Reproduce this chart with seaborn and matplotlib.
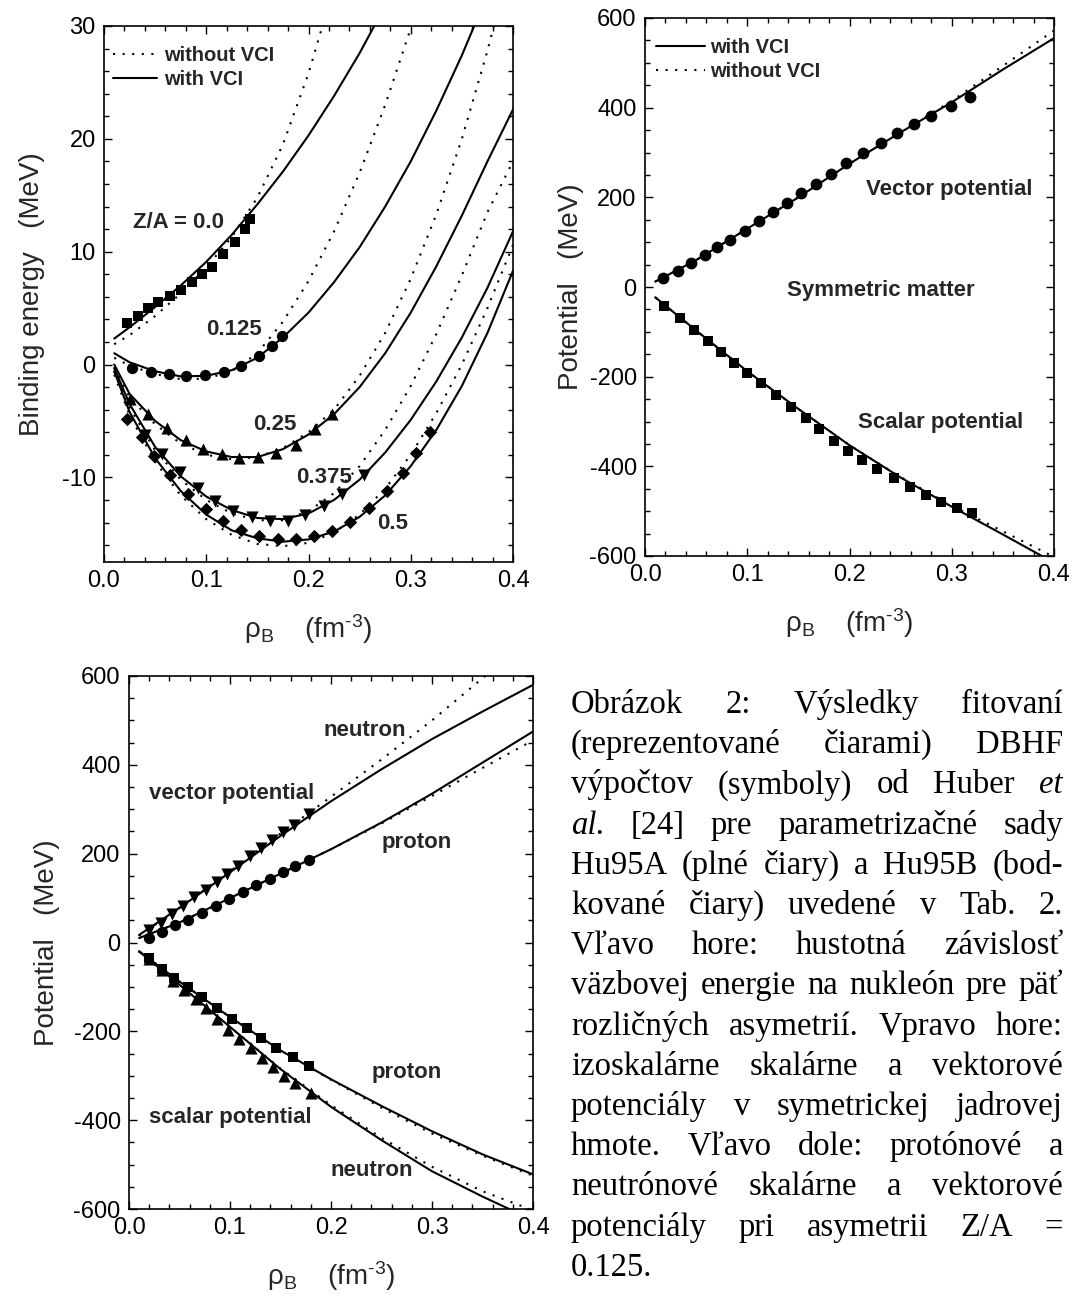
import numpy as np
import pandas as pd
import matplotlib
matplotlib.use("Agg")
import matplotlib.pyplot as plt
import seaborn as sns
from matplotlib.ticker import MultipleLocator
from matplotlib.lines import Line2D

# ---------------- data: panel 1 (binding energy) ----------------
rho_grid = [0.01, 0.025, 0.05, 0.075, 0.1, 0.125, 0.15, 0.175, 0.2, 0.225,
            0.25, 0.275, 0.3, 0.325, 0.35, 0.375, 0.4]

# Z/A = 0.0
be0_rho_pts = [0.0228, 0.033, 0.0427, 0.0525, 0.0645, 0.0753, 0.0857, 0.0962,
               0.106, 0.1167, 0.128, 0.138, 0.143]
be0_pts = [3.69, 4.31, 5.05, 5.56, 6.06, 6.59, 7.30, 8.01, 8.66, 9.76, 10.88, 11.98, 12.87]
be0_solid = [2.3, 3.3, 5.1, 7.0, 9.1, 11.5, 14.2, 17.1, 20.3, 23.8, 27.6, 31.8]
be0_dot = [1.8, 2.6, 4.3, 6.3, 8.6, 11.3, 14.8, 19.5, 25.8, 33.5]

# Z/A = 0.125
be1_rho_pts = [0.0277, 0.0456, 0.0633, 0.0802, 0.099, 0.117, 0.1337, 0.1516, 0.164, 0.1744]
be1_pts = [-0.27, -0.62, -0.86, -0.98, -0.92, -0.68, -0.12, 0.77, 1.65, 2.57]
be1_solid = [1.0, 0.2, -0.6, -1.05, -1.0, -0.5, 0.6, 2.4, 4.6, 7.3, 10.4, 14.0,
             18.0, 22.5, 27.4, 32.8]
be1_dot = [0.6, -0.1, -0.85, -1.3, -1.25, -0.6, 1.0, 3.8, 7.4, 11.8, 17.0, 23.0,
           29.8, 37.0]

# Z/A = 0.25
be2_rho_pts = [0.0254, 0.0433, 0.0613, 0.0799, 0.0971, 0.115, 0.132, 0.1509,
               0.1687, 0.1877, 0.2067, 0.2227]
be2_pts = [-3.02, -4.35, -5.62, -6.66, -7.46, -7.96, -8.25, -8.23, -7.84, -7.16,
           -5.68, -4.35]
be2_solid = [0.0, -2.6, -5.0, -6.7, -7.7, -8.2, -8.2, -7.5, -6.2, -4.4, -2.0, 1.0,
             4.6, 8.7, 13.2, 18.0, 22.6]
be2_dot = [-0.3, -2.9, -5.3, -7.0, -8.0, -8.4, -8.2, -7.4, -6.0, -4.0, -1.0, 2.8,
           7.6, 13.3, 20.0, 27.8, 36.5]

# Z/A = 0.375
be3_rho_pts = [0.040, 0.0564, 0.0743, 0.0916, 0.109, 0.1265, 0.1444, 0.162, 0.180,
               0.197, 0.215, 0.233, 0.2546]
be3_pts = [-6.27, -7.96, -9.53, -10.92, -12.1, -13.0, -13.5, -13.9, -13.85,
           -13.35, -12.57, -11.5, -9.82]
be3_solid = [-0.3, -3.5, -7.3, -9.9, -11.7, -12.9, -13.6, -13.7, -13.2, -12.0,
             -10.2, -7.8, -4.9, -1.5, 2.4, 6.8, 11.8]
be3_dot = [-0.6, -3.8, -7.6, -10.2, -12.0, -13.2, -13.8, -13.8, -13.0, -11.4,
           -9.0, -5.8, -1.9, 2.7, 7.9, 13.5, 18.0]

# Z/A = 0.5
be4_rho_pts = [0.0228, 0.0369, 0.0492, 0.0645, 0.0818, 0.0994, 0.116, 0.1339,
               0.1518, 0.1698, 0.1877, 0.2056, 0.2227, 0.2406, 0.259, 0.277,
               0.2927, 0.3055, 0.3188]
be4_pts = [-4.79, -6.42, -8.14, -9.82, -11.5, -12.78, -13.9, -14.7, -15.2, -15.5,
           -15.5, -15.2, -14.76, -13.96, -12.7, -11.24, -9.6, -7.8, -6.0]
be4_solid = [-0.6, -4.2, -8.3, -11.2, -13.3, -14.7, -15.4, -15.7, -15.5, -14.8,
             -13.5, -11.6, -9.0, -5.8, -1.9, 2.8, 8.3]
be4_dot = [-0.9, -4.5, -8.6, -11.6, -13.7, -15.1, -15.9, -16.1, -15.8, -14.9,
           -13.3, -11.0, -8.0, -4.3, 0.0, 5.0, 10.6]

za_labels = ["Z/A = 0.0", "0.125", "0.25", "0.375", "0.5"]

# ---------------- data: panel 2 (symmetric matter) ----------------
sym_rho_pts_v = [0.0179, 0.032, 0.045, 0.0587, 0.0707, 0.0831, 0.0978, 0.1118,
                 0.1255, 0.139, 0.153, 0.167, 0.1816, 0.197, 0.2135, 0.2305,
                 0.2467, 0.2634, 0.2794, 0.299, 0.3178]
sym_vec_pts = [20.4, 35.3, 52.5, 71, 88.3, 104.6, 125.4, 147.7, 167.1, 188, 209,
               229, 252, 276, 299, 320.7, 343, 363.8, 381.7, 404, 424.8]
sym_rho_pts_s = [0.0189, 0.0342, 0.0482, 0.0619, 0.0743, 0.0873, 0.1001, 0.1134,
                 0.128, 0.1428, 0.157, 0.1705, 0.1852, 0.1988, 0.2125, 0.2272,
                 0.2435, 0.2592, 0.2745, 0.2895, 0.3054, 0.32]
sym_sca_pts = [-42.2, -69, -96.5, -121, -145, -168.7, -191, -213.4, -240.2, -268,
               -292.5, -317.8, -342.4, -364.7, -385.5, -405.6, -425.7, -445.1,
               -463.7, -478.7, -493.6, -504.8]
sym_rho_line = [0.01, 0.05, 0.1, 0.15, 0.2, 0.25, 0.3, 0.35, 0.4]
sym_vec_solid = [12, 60, 130, 200, 275, 345, 412, 485, 555]
sym_vec_dot = [12, 60, 130, 200, 275, 345, 415, 493, 572]
sym_sca_solid = [-23, -97, -188, -272, -353, -425, -490, -552, -615]
sym_sca_dot = [-23, -97, -188, -272, -353, -424, -488, -545, -602]

# ---------------- data: panel 3 (Z/A = 0.125) ----------------
asy_rho_nv = [0.0201, 0.0314, 0.0423, 0.0532, 0.0644, 0.0762, 0.0868, 0.0973,
              0.1076, 0.1198, 0.1307, 0.1419, 0.1528, 0.1634, 0.1785]
asy_nvec_pts = [28.6, 45, 64.6, 83.3, 101.4, 118.7, 136, 154.7, 172.7, 193.7,
                212.6, 231.3, 247.7, 263.5, 289.9]
asy_rho_pv = [0.0201, 0.033, 0.0455, 0.0587, 0.072, 0.0858, 0.0993, 0.1126,
              0.1257, 0.1396, 0.1522, 0.1644, 0.1785]
asy_pvec_pts = [9.9, 23.4, 38.3, 51, 66.2, 82.7, 98.4, 114.2, 129.3, 143.5, 157.7,
                171.2, 184.7]
asy_rho_ps = [0.0201, 0.0324, 0.0449, 0.0581, 0.072, 0.0868, 0.1017, 0.1165,
              0.1307, 0.1452, 0.162, 0.1785]
asy_psca_pts = [-35.1, -60, -78.8, -101.3, -123, -147.9, -171.8, -192.9, -215.4,
                -236.4, -258.1, -277.7]
asy_rho_ns = [0.0201, 0.0324, 0.0439, 0.0545, 0.0663, 0.0762, 0.0868, 0.0977,
              0.1089, 0.1205, 0.1314, 0.1423, 0.1535, 0.1644, 0.1799]
asy_nsca_pts = [-36.6, -62.6, -85.6, -106.5, -127.5, -147.9, -171.8, -196.6,
                -217.6, -237.8, -260.4, -279.3, -299.5, -316.7, -339.2]
asy_rho_line = [0.01, 0.05, 0.1, 0.15, 0.2, 0.25, 0.3, 0.35, 0.4]
asy_nvec_solid = [17, 78, 158, 240, 318, 390, 458, 520, 580]
asy_nvec_dot = [15, 78, 160, 245, 328, 412, 500, 595, 690]
asy_pvec_solid = [10, 45, 100, 155, 210, 270, 335, 405, 475]
asy_pvec_dot = [10, 45, 100, 155, 210, 268, 330, 393, 455]
asy_psca_solid = [-20, -88, -168, -243, -308, -368, -425, -477, -522]
asy_psca_dot = [-20, -88, -168, -243, -309, -372, -430, -480, -525]
asy_nsca_solid = [-20, -95, -190, -285, -370, -445, -515, -572, -625]
asy_nsca_dot = [-20, -95, -190, -284, -366, -440, -505, -560, -603]

caption_lines = [
    "Obrázok 2: Výsledky fitovaní",
    "(reprezentované čiarami) DBHF",
    "výpočtov (symboly) od Huber _et",
    "_al. [24] pre parametrizačné sady",
    "Hu95A (plné čiary) a Hu95B (bod-",
    "kované čiary) uvedené v Tab. 2.",
    "Vľavo hore: hustotná závislosť",
    "väzbovej energie na nukleón pre päť",
    "rozličných asymetrií. Vpravo hore:",
    "izoskalárne skalárne a vektorové",
    "potenciály v symetrickej jadrovej",
    "hmote. Vľavo dole: protónové a",
    "neutrónové skalárne a vektorové",
    "potenciály pri asymetrii Z/A =",
    "0.125.",
]

# ---------------- style ----------------
sns.set_theme(style="ticks")
plt.rcParams['font.family'] = ['Liberation Sans', 'DejaVu Sans']
plt.rcParams['mathtext.fontset'] = 'custom'
plt.rcParams['mathtext.rm'] = 'Liberation Sans'
plt.rcParams['mathtext.it'] = 'Liberation Sans:italic'
plt.rcParams['mathtext.bf'] = 'Liberation Sans:bold'

W, H = 1076, 1305
fig = plt.figure(figsize=(W / 100, H / 100), dpi=100)
fig.patch.set_facecolor('white')


def px_axes(l, t, r, b):
    return fig.add_axes([l / W, 1 - b / H, (r - l) / W, (b - t) / H])


ax1 = px_axes(104, 26, 513, 562)
ax2 = px_axes(645, 18, 1054, 556)
ax3 = px_axes(129, 676, 533, 1209)

TICK_FS = 17
LAB_FS = 20
ANN_FS = 16
LEG_FS = 14.5
LW = 1.5
DOT = (0, (1, 3.6))


def style_axes(ax, ymaj, ymin):
    ax.set_facecolor('white')
    for s in ax.spines.values():
        s.set_linewidth(1.2)
        s.set_color('black')
        s.set_visible(True)
    ax.xaxis.set_major_locator(MultipleLocator(0.1))
    ax.xaxis.set_minor_locator(MultipleLocator(0.02))
    ax.yaxis.set_major_locator(MultipleLocator(ymaj))
    ax.yaxis.set_minor_locator(MultipleLocator(ymin))
    ax.tick_params(which='both', direction='in', top=True, right=True,
                   colors='black', width=1.0)
    ax.tick_params(which='major', length=6, labelsize=TICK_FS, pad=6)
    ax.tick_params(which='minor', length=3.6)
    ax.xaxis.set_major_formatter(matplotlib.ticker.FuncFormatter(lambda v, p: f"{v:.1f}"))
    ax.yaxis.set_major_formatter(matplotlib.ticker.FuncFormatter(
        lambda v, p: f"{v:.0f}".replace("\u2212", "-")))
    ax.set_xlim(0, 0.4)
    ax.set_xlabel(r'ρ$_{\mathrm{B}}$    (fm$^{\text{-3}}$)', fontsize=LAB_FS, labelpad=14)


def line(ax, x, y, dotted=False):
    n = min(len(x), len(y))
    sns.lineplot(x=list(x[:n]), y=list(y[:n]), ax=ax, color='black', lw=LW,
                 linestyle=DOT if dotted else '-', estimator=None, sort=False)


def pts(ax, x, y, marker, s):
    sns.scatterplot(x=x, y=y, ax=ax, marker=marker, s=s, color='black',
                    edgecolor='black', linewidth=0, zorder=5)


# ---------------- panel 1 ----------------
for solid, dot in [(be0_solid, be0_dot), (be1_solid, be1_dot), (be2_solid, be2_dot),
                   (be3_solid, be3_dot), (be4_solid, be4_dot)]:
    line(ax1, rho_grid, dot, dotted=True)
    line(ax1, rho_grid, solid)
pts(ax1, be0_rho_pts, be0_pts, 's', 62)
pts(ax1, be1_rho_pts, be1_pts, 'o', 66)
pts(ax1, be2_rho_pts, be2_pts, '^', 76)
pts(ax1, be3_rho_pts, be3_pts, 'v', 76)
pts(ax1, be4_rho_pts, be4_pts, 'D', 46)
style_axes(ax1, 10, 2)
ax1.set_ylim(-17.5, 30)
ax1.set_ylabel('Binding energy   (MeV)', fontsize=LAB_FS, labelpad=12)
ann = dict(fontsize=ANN_FS, fontweight='bold', ha='center', va='center')
ax1.text(0.0727, 12.57, za_labels[0], **ann)
ax1.text(0.1268, 3.13, za_labels[1], **ann)
ax1.text(0.167, -5.33, za_labels[2], **ann)
ax1.text(0.2148, -9.97, za_labels[3], **ann)
ax1.text(0.2826, -14.05, za_labels[4], **ann)
h_dot = Line2D([], [], color='black', lw=LW, linestyle=DOT)
h_sol = Line2D([], [], color='black', lw=LW)
ax1.legend([h_dot, h_sol], ['without VCI', 'with VCI'], loc='upper left',
           bbox_to_anchor=(0.022, 0.962), frameon=False, handlelength=2.2,
           handletextpad=0.35, labelspacing=0.22, borderaxespad=0, borderpad=0,
           prop={'size': LEG_FS, 'weight': 'bold'})

# ---------------- panel 2 ----------------
line(ax2, sym_rho_line, sym_vec_dot, dotted=True)
line(ax2, sym_rho_line, sym_vec_solid)
line(ax2, sym_rho_line, sym_sca_dot, dotted=True)
line(ax2, sym_rho_line, sym_sca_solid)
pts(ax2, sym_rho_pts_v, sym_vec_pts, 'o', 72)
pts(ax2, sym_rho_pts_s, sym_sca_pts, 's', 62)
style_axes(ax2, 200, 50)
ax2.set_ylim(-600, 600)
ax2.set_ylabel('Potential   (MeV)', fontsize=LAB_FS, labelpad=4)
ax2.text(0.2973, 218.5, 'Vector potential', **ann)
ax2.text(0.2305, -7.2, 'Symmetric matter', **ann)
ax2.text(0.2889, -301.4, 'Scalar potential', **ann)
ax2.legend([h_sol, h_dot], ['with VCI', 'without VCI'], loc='upper left',
           bbox_to_anchor=(0.028, 0.962), frameon=False, handlelength=2.4,
           handletextpad=0.25, labelspacing=0.25, borderaxespad=0, borderpad=0,
           prop={'size': LEG_FS, 'weight': 'bold'})

# ---------------- panel 3 ----------------
for solid, dot in [(asy_nvec_solid, asy_nvec_dot), (asy_pvec_solid, asy_pvec_dot),
                   (asy_psca_solid, asy_psca_dot), (asy_nsca_solid, asy_nsca_dot)]:
    line(ax3, asy_rho_line, dot, dotted=True)
    line(ax3, asy_rho_line, solid)
pts(ax3, asy_rho_nv, asy_nvec_pts, 'v', 76)
pts(ax3, asy_rho_pv, asy_pvec_pts, 'o', 66)
pts(ax3, asy_rho_ps, asy_psca_pts, 's', 62)
pts(ax3, asy_rho_ns, asy_nsca_pts, '^', 76)
style_axes(ax3, 200, 50)
ax3.set_ylim(-600, 600)
ax3.set_ylabel('Potential   (MeV)', fontsize=LAB_FS, labelpad=10)
ax3.text(0.233, 477, 'neutron', **ann)
ax3.text(0.102, 335, 'vector potential', **ann)
ax3.text(0.285, 226, 'proton', **ann)
ax3.text(0.275, -293, 'proton', **ann)
ax3.text(0.100, -393, 'scalar potential', **ann)
ax3.text(0.240, -514, 'neutron', **ann)

# ---------------- caption (justified) ----------------
CAP_FS = 23.5
cap_left, cap_right = 571, 1063
cap_base0, cap_step = 713, 40.2
renderer = fig.canvas.get_renderer()
for i, ln in enumerate(caption_lines):
    yb = cap_base0 + i * cap_step
    texts, widths = [], []
    for w in ln.split(' '):
        italic = w.startswith('_')
        w = w.lstrip('_')
        t = fig.text(0, 1 - yb / H, w, fontsize=CAP_FS, family='Liberation Serif',
                     style='italic' if italic else 'normal', va='baseline', ha='left',
                     color='black')
        texts.append(t)
        widths.append(t.get_window_extent(renderer).width)
    last = (i == len(caption_lines) - 1)
    if last or len(texts) == 1:
        gap = 8
    else:
        gap = (cap_right - cap_left - sum(widths)) / (len(texts) - 1)
    x = cap_left
    for t, w in zip(texts, widths):
        t.set_x(x / W)
        x += w + gap

fig.savefig('out.png', dpi=100, facecolor='white')
